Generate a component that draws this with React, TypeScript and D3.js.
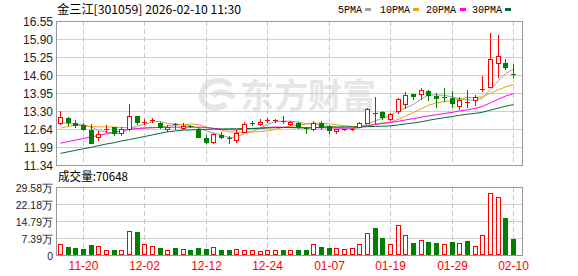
import React from 'react';
import * as d3 from 'd3';

// ---------- data ----------
const dates = [
  '11-17','11-18','11-19','11-20','11-21','11-24','11-25','11-26','11-27','11-28',
  '12-01','12-02','12-03','12-04','12-05','12-08','12-09','12-10','12-11','12-12',
  '12-15','12-16','12-17','12-18','12-19','12-22','12-23','12-24','12-25','12-26',
  '12-29','12-30','12-31','01-05','01-06','01-07','01-08','01-09','01-12','01-13',
  '01-14','01-15','01-16','01-19','01-20','01-21','01-22','01-23','01-26','01-27',
  '01-28','01-29','01-30','02-02','02-03','02-04','02-05','02-06','02-09','02-10',
];
const opens = [
  12.85,13.05,12.85,12.79,12.61,12.34,12.63,12.70,12.51,12.63,
  13.12,12.90,12.96,12.85,12.63,12.81,12.68,12.76,12.65,12.33,
  12.16,12.43,12.31,12.26,12.54,12.87,12.83,12.95,12.96,12.93,
  12.82,12.85,12.68,12.64,12.85,12.74,12.58,12.61,12.63,12.70,
  12.86,13.22,13.27,12.99,13.28,13.54,13.91,13.91,14.02,13.85,
  13.80,13.75,13.47,13.62,13.69,14.07,14.17,15.02,15.04,14.64,
];
const highs = [
  13.30,13.09,12.97,12.85,12.81,12.57,12.77,12.72,12.70,13.54,
  13.12,12.99,13.03,12.91,12.79,12.86,12.86,12.79,12.71,12.43,
  12.48,12.52,12.39,12.59,12.90,12.95,13.00,13.04,13.02,13.13,
  12.94,12.91,12.73,12.95,12.93,12.79,12.64,12.64,12.69,12.91,
  13.39,13.81,13.29,13.21,13.78,13.99,13.91,14.11,14.07,13.93,
  14.11,14.02,13.79,14.05,13.87,14.56,16.13,16.04,15.16,14.99,
];
const lows = [
  12.81,12.79,12.70,12.61,12.12,12.23,12.55,12.41,12.41,12.62,
  12.81,12.83,12.91,12.67,12.57,12.65,12.66,12.72,12.36,12.12,
  12.15,12.31,12.12,12.18,12.52,12.79,12.77,12.88,12.91,12.85,
  12.79,12.67,12.49,12.61,12.63,12.50,12.51,12.60,12.62,12.70,
  12.85,12.86,13.02,12.97,13.22,13.39,13.73,13.73,13.69,13.43,
  13.66,13.45,13.36,13.45,13.51,14.03,14.15,14.53,14.81,14.53,
];
const closes = [
  13.07,12.88,12.78,12.66,12.15,12.45,12.64,12.51,12.63,13.12,
  12.88,12.91,12.97,12.70,12.73,12.80,12.75,12.75,12.37,12.19,
  12.45,12.34,12.30,12.51,12.82,12.86,12.91,12.96,12.97,12.92,
  12.88,12.73,12.67,12.87,12.73,12.62,12.63,12.63,12.66,12.87,
  13.35,13.20,13.06,13.17,13.73,13.87,13.84,14.05,13.87,13.75,
  13.79,13.57,13.69,13.63,13.81,14.08,15.16,15.28,14.90,14.63,
];
// volume in 万手
const volumes = [
  5.0,3.3,2.9,2.4,4.3,4.1,2.1,2.1,2.0,10.3,
  10.2,4.7,3.9,2.9,2.1,2.9,2.4,2.1,2.9,2.6,
  3.3,2.1,2.1,2.4,2.1,2.1,1.7,2.0,2.1,2.1,
  2.0,2.1,2.1,5.0,3.3,2.9,2.9,2.4,2.9,5.0,
  9.7,11.9,7.3,4.6,13.1,8.9,5.1,6.7,5.6,5.1,
  4.6,5.6,5.1,6.0,4.1,8.9,27.1,25.3,15.9,7.06,
];
// 1 = red (up) volume bar, 0 = green
const volUp = [
  1,0,0,0,0,1,1,0,1,1,
  0,1,1,0,1,0,1,0,0,0,
  1,0,0,1,1,1,1,1,1,0,
  1,0,0,1,0,0,1,1,1,1,
  1,0,0,1,1,1,0,1,0,0,
  1,0,1,0,1,1,1,1,0,0,
];
const ma5Head = [12.86,12.85,12.82,12.79];
const ma10Head = [12.67,12.74,12.78,12.76,12.73,12.72,12.72,12.71,12.70];
const ma20Head = [12.13,12.19,12.24,12.30,12.36,12.41,12.47,12.52,12.58,12.63,
  12.66,12.68,12.69,12.70,12.70,12.71,12.71,12.71,12.71];
const ma30Head = [11.76,11.82,11.87,11.93,11.98,12.04,12.10,12.15,12.21,12.26,
  12.32,12.37,12.43,12.49,12.54,12.57,12.60,12.61,12.62,12.63,
  12.64,12.64,12.65,12.65,12.66,12.66,12.67,12.68,12.69];

const priceMin = 11.34;
const priceMax = 16.55;
const priceTicks = ['16.55','15.90','15.25','14.60','13.95','13.30','12.64','11.99','11.34'];
const volMax = 29.58;
const volTicks = ['29.58万','22.18万','14.79万','7.39万','0'];
const xTicks = ['11-20','12-02','12-12','12-24','01-07','01-19','01-29','02-10'];
const maNames = ['5PMA','10PMA','20PMA','30PMA'];
const maPeriods = [5,10,20,30];
const title = '金三江[301059] 2026-02-10 11:30';
const volTitle = '成交量:70648';

// ---------- styles ----------
const RED = '#ff0000';
const GREEN = '#008000';
const maColors = ['#a0a0a0','#f0a000','#ff00ff','#006b30'];
const legendX = [338, 380, 426, 472];
const legendSqX = [365, 413, 460, 505];

function movingAvg(head: number[], n: number): number[] {
  return closes.map((_, i) =>
    i < head.length ? head[i] : (d3.mean(closes.slice(i - n + 1, i + 1)) as number));
}

export default function App() {
  const W = 578, H = 276;
  const L = 56, R = 522, PT = 21, PB = 165, VT = 187, VB = 255;

  const x = d3.scaleBand<string>().domain(dates).range([L, L + 60 * 7.68]).padding(0);
  const bw = x.bandwidth();
  const cx = (d: string) => Math.round((x(d) as number) + bw / 2);
  const y = d3.scaleLinear().domain([priceMin, priceMax]).range([PB, PT]);
  const yv = d3.scaleLinear().domain([0, volMax]).range([VB, VT]);

  const heads = [ma5Head, ma10Head, ma20Head, ma30Head];
  const mas = maPeriods.map((n, k) => movingAvg(heads[k], n));
  const line = d3.line<number>()
    .x((_, i) => cx(dates[i]) + 0.5)
    .y((v) => y(v));

  const priceGridY = priceTicks.map((_, k) =>
    Math.round(y(priceMax - (k * (priceMax - priceMin)) / (priceTicks.length - 1))) + 0.5);
  const volGridY = volTicks.map((_, k) =>
    Math.round(yv(volMax - (k * volMax) / (volTicks.length - 1))) + 0.5);

  return (
    <svg width={W} height={H} style={{ position: 'absolute', left: 0, top: 0, background: '#fff' }}
      fontFamily="'Liberation Sans', Arial, sans-serif">
      {/* watermark */}
      <g fill="none" stroke="#e6e6e6" strokeWidth={6}>
        <path d="M231,86 C222,76 204,80 202,94 C200,106 214,112 226,104" />
        <path d="M212,96 C218,90 228,92 234,98" />
      </g>
      <text x={308} y={108} textAnchor="middle" fontSize={34} fontWeight="bold" fill="#e6e6e6"
        fontFamily="'Noto Sans CJK SC', sans-serif">东方财富</text>

      {/* title */}
      <text x={57} y={14} fontSize={12} fill="#000" textLength={184} lengthAdjust="spacingAndGlyphs"
        fontFamily="'Noto Sans CJK SC', sans-serif">{title}</text>

      {/* legend */}
      {maNames.map((n, k) => (
        <g key={n}>
          <text x={legendX[k]} y={12.5} fontSize={10} fill="#000" fontFamily="'Liberation Mono', monospace">{n}</text>
          <rect x={legendSqX[k]} y={8} width={6} height={3} fill={maColors[k]} />
        </g>
      ))}

      {/* price grid */}
      {priceGridY.map((gy, k) => (
        <line key={'pg' + k} x1={L} x2={R} y1={gy} y2={gy} stroke="#d0d0d0" shapeRendering="crispEdges" />
      ))}
      {volGridY.map((gy, k) => (
        <line key={'vg' + k} x1={L} x2={R} y1={gy} y2={gy} stroke="#d0d0d0" shapeRendering="crispEdges" />
      ))}
      {xTicks.map((t) => (
        <g key={'xv' + t}>
          <line x1={cx(t) + 0.5} x2={cx(t) + 0.5} y1={PT} y2={PB} stroke="#c8c8c8" strokeDasharray="5,3" shapeRendering="crispEdges" />
          <line x1={cx(t) + 0.5} x2={cx(t) + 0.5} y1={VT} y2={VB} stroke="#c8c8c8" strokeDasharray="5,3" shapeRendering="crispEdges" />
        </g>
      ))}
      <rect x={L + 0.5} y={PT + 0.5} width={R - L} height={PB - PT} fill="none" stroke="#999" shapeRendering="crispEdges" />
      <rect x={L + 0.5} y={VT + 0.5} width={R - L} height={VB - VT} fill="none" stroke="#999" shapeRendering="crispEdges" />

      {/* price axis labels */}
      {priceTicks.map((t, k) => (
        <text key={'pt' + k} x={53} y={priceGridY[k] + 4.5} textAnchor="end" fontSize={12} fill="#222">{t}</text>
      ))}
      {volTicks.map((t, k) => (
        <text key={'vt' + k} x={53} y={volGridY[k] + 4} textAnchor="end" fontSize={10.5} fill="#222">{t}</text>
      ))}
      <text x={58} y={181} fontSize={12} fill="#000" textLength={70} lengthAdjust="spacingAndGlyphs"
        fontFamily="'Noto Sans CJK SC', sans-serif">{volTitle}</text>

      {/* x labels */}
      {xTicks.map((t) => (
        <text key={'xl' + t} x={cx(t) + 0.5} y={270} textAnchor="middle" fontSize={12} fill={RED}>{t}</text>
      ))}

      {/* moving averages */}
      {mas.map((m, k) => (
        <path key={'ma' + k} d={line(m) as string} fill="none" stroke={maColors[k]} strokeWidth={1} />
      ))}

      {/* candles */}
      <g shapeRendering="crispEdges">
        {dates.map((d, i) => {
          const c = cx(d);
          const up = closes[i] > opens[i];
          const col = up ? RED : GREEN;
          const yo = y(opens[i]), yc = y(closes[i]);
          const top = Math.round(Math.min(yo, yc));
          const bot = Math.round(Math.max(yo, yc));
          const yh = Math.round(y(highs[i])), yl = Math.round(y(lows[i]));
          const doji = bot - top < 1.5;
          return (
            <g key={'c' + d}>
              <line x1={c + 0.5} x2={c + 0.5} y1={yh} y2={yl + 1} stroke={col} />
              {doji ? (
                <line x1={c - 2} x2={c + 3} y1={top + 0.5} y2={top + 0.5} stroke={col} />
              ) : up ? (
                <rect x={c - 1.5} y={top + 0.5} width={4} height={bot - top} fill="#fff" stroke={col} />
              ) : (
                <rect x={c - 2} y={top} width={5} height={bot - top + 1} fill={col} />
              )}
            </g>
          );
        })}
      </g>

      {/* volume bars */}
      <g shapeRendering="crispEdges">
        {dates.map((d, i) => {
          const c = cx(d);
          const top = Math.round(yv(volumes[i]));
          return volUp[i] ? (
            <rect key={'v' + d} x={c - 1.5} y={top + 0.5} width={4} height={VB - top - 1} fill="#fff" stroke={RED} />
          ) : (
            <rect key={'v' + d} x={c - 2} y={top} width={5} height={VB - top} fill={GREEN} />
          );
        })}
      </g>
    </svg>
  );
}
